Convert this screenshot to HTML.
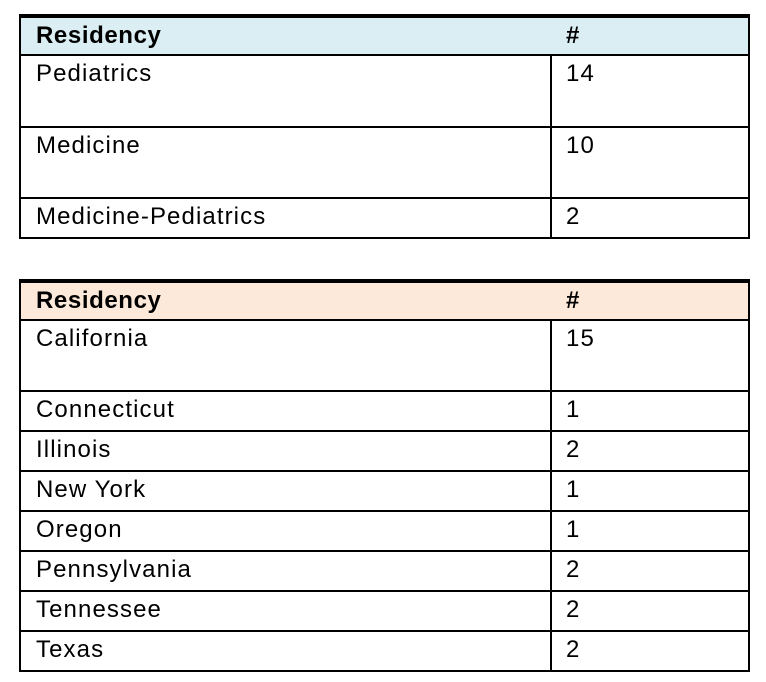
<!DOCTYPE html>
<html><head><meta charset="utf-8"><style>
body{margin:0;width:766px;height:682px;background:#fff;position:relative;font-family:"Liberation Sans",sans-serif;font-size:24px;letter-spacing:1.1px;color:#000;overflow:hidden}
.tbl{position:absolute;left:19px;width:727px;border:2px solid #000;box-sizing:content-box}
.row{position:relative;border-top:2px solid #000;box-sizing:border-box}
.row:first-child{border-top:none}
.c1,.c2{position:absolute;top:5px;line-height:26px}
.c1{left:15px}.c2{left:545px}
.div{position:absolute;top:0;bottom:0;left:529px;width:2px;background:#000}
.h{font-weight:bold;letter-spacing:0.6px}
</style></head><body>
<div class="tbl" style="top:14px">
 <div class="div"></div>
 <div class="row h" style="height:38px;background:#daeef3"><span class="c1">Residency</span><span class="c2">#</span></div>
 <div class="row" style="height:72px"><span class="c1">Pediatrics</span><span class="c2">14</span></div>
 <div class="row" style="height:71px"><span class="c1">Medicine</span><span class="c2">10</span></div>
 <div class="row" style="height:40px"><span class="c1">Medicine-Pediatrics</span><span class="c2">2</span></div>
</div>
<div class="tbl" style="top:279px">
 <div class="div"></div>
 <div class="row h" style="height:38px;background:#fde9d9"><span class="c1">Residency</span><span class="c2">#</span></div>
 <div class="row" style="height:71px"><span class="c1">California</span><span class="c2">15</span></div>
 <div class="row" style="height:40px"><span class="c1">Connecticut</span><span class="c2">1</span></div>
 <div class="row" style="height:40px"><span class="c1">Illinois</span><span class="c2">2</span></div>
 <div class="row" style="height:40px"><span class="c1">New York</span><span class="c2">1</span></div>
 <div class="row" style="height:40px"><span class="c1">Oregon</span><span class="c2">1</span></div>
 <div class="row" style="height:40px"><span class="c1">Pennsylvania</span><span class="c2">2</span></div>
 <div class="row" style="height:40px"><span class="c1">Tennessee</span><span class="c2">2</span></div>
 <div class="row" style="height:40px"><span class="c1">Texas</span><span class="c2">2</span></div>
</div>
</body></html>
